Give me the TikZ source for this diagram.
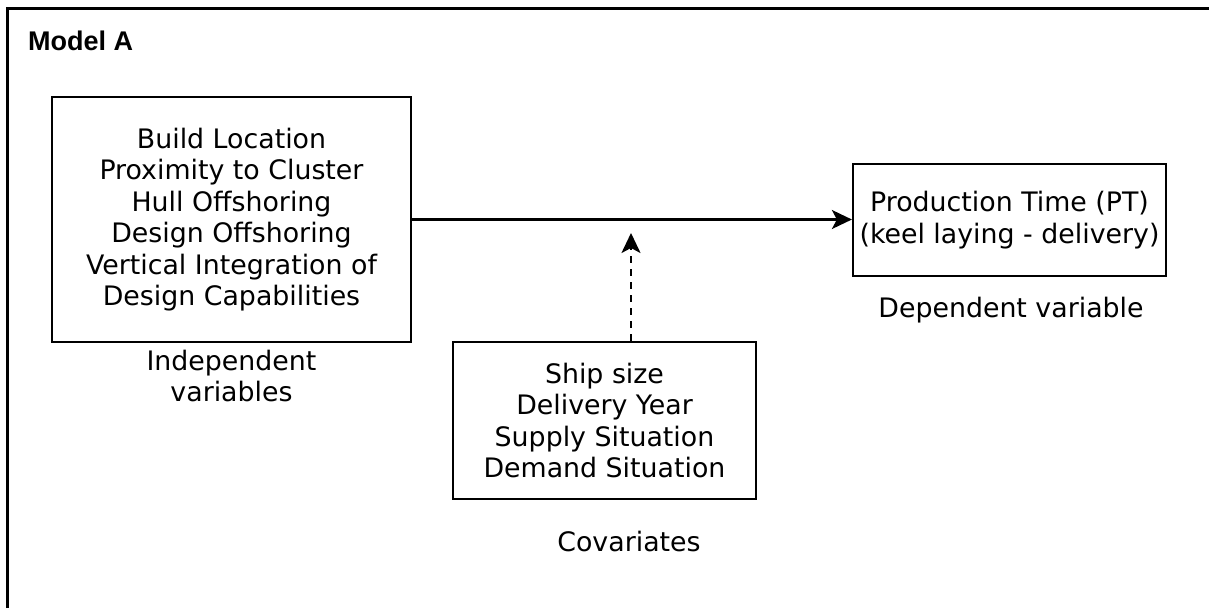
\documentclass[tikz,border=0pt]{standalone}
\usepackage{fontspec}
\setmainfont{DejaVu Sans}
\newfontfamily\titlefont{Liberation Sans}
\usetikzlibrary{arrows.meta}
\tikzstyle{varbox}=[draw,line width=2.2pt,align=center,inner sep=0pt]
\tikzstyle{varlabel}=[align=center,inner sep=0pt]
\tikzstyle{effect}=[-{Stealth[length=20pt,width=19pt,inset=5pt]},line width=2.2pt]
\tikzstyle{control}=[effect,dash pattern=on 6.5pt off 6.5pt]
\newcommand{\bodyfont}{\fontsize{26.8}{31.5}\selectfont}
\newcommand{\headfont}{\titlefont\bfseries\fontsize{27}{30}\selectfont}

\begin{document}
\begin{tikzpicture}[x=1pt,y=-1pt,font=\bodyfont]
  \useasboundingbox (0,0) rectangle (1209,608);
  % open frame, only top and left side visible
  \draw[line width=3pt] (7,608) -- (7,8) -- (1209,8);
  \node[anchor=base west,inner sep=0pt,font=\headfont] (title) at (28,50.7) {Model A};

  \node[varbox,minimum width=359pt,minimum height=245pt] (indep) at (231.5,219.5)
    {Build Location\\Proximity to Cluster\\Hull Offshoring\\Design Offshoring\\Vertical Integration of\\Design Capabilities};
  \node[varbox,minimum width=313pt,minimum height=112pt] (dep) at (1009.5,220)
    {Production Time (PT)\\(keel laying - delivery)};
  \node[varbox,minimum width=303pt,minimum height=157pt] (covar) at (604.5,420.5)
    {Ship size\\Delivery Year\\Supply Situation\\Demand Situation};

  \node[varlabel] (indeplabel) at (231.5,375.9) {Independent\\variables};
  \node[varlabel] (deplabel) at (1011,309.9) {Dependent variable};
  \node[varlabel] (covarlabel) at (629,541.9) {Covariates};

  \draw[effect] (indep.east) -- (indep.east -| dep.west);
  \coordinate (covtip) at (631,233);
  \draw[control] (covar.north -| covtip) -- (covtip); %covariates
\end{tikzpicture}
\end{document}
